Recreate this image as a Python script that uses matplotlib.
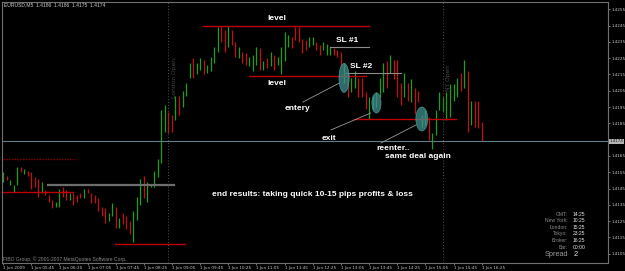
import numpy as np
import matplotlib
matplotlib.use("Agg")
import matplotlib.pyplot as plt
from matplotlib.patches import Ellipse

# EURUSD M5, 1 Jun 2009 05:05 .. 16:25 (high / low per bar, G = up, R = down)
high = [1.4155,1.4153,1.4150,1.4147,1.4158,1.4158,1.4157,1.4156,1.4155,1.4152,
        1.4151,1.4149,1.4144,1.4141,1.4138,1.4137,1.4145,1.4146,1.4144,1.4142,
        1.4142,1.4141,1.4142,1.4145,1.4145,1.4142,1.4141,1.4139,1.4134,1.4133,
        1.4130,1.4136,1.4134,1.4127,1.4130,1.4128,1.4125,1.4131,1.4140,1.4151,
        1.4153,1.4149,1.4148,1.4156,1.4163,1.4193,1.4196,1.4192,1.4190,1.4202,
        1.4202,1.4205,1.4210,1.4222,1.4225,1.4222,1.4225,1.4224,1.4221,1.4226,
        1.4232,1.4244,1.4245,1.4242,1.4245,1.4242,1.4235,1.4232,1.4229,1.4228,
        1.4226,1.4227,1.4232,1.4231,1.4223,1.4225,1.4229,1.4227,1.4226,1.4232,
        1.4241,1.4239,1.4238,1.4244,1.4244,1.4237,1.4236,1.4238,1.4238,1.4235,
        1.4233,1.4235,1.4234,1.4232,1.4231,1.4230,1.4229,1.4222,1.4216,1.4213,
        1.4217,1.4213,1.4213,1.4204,1.4201,1.4202,1.4204,1.4213,1.4222,1.4223,
        1.4227,1.4224,1.4224,1.4210,1.4216,1.4210,1.4212,1.4207,1.4205,1.4190,
        1.4193,1.4189,1.4179,1.4193,1.4204,1.4201,1.4204,1.4209,1.4209,1.4213,
        1.4216,1.4224,1.4217,1.4199,1.4199,1.4199,1.4186]
low = [1.4149,1.4150,1.4147,1.4143,1.4147,1.4155,1.4154,1.4153,1.4145,1.4146,
       1.4140,1.4142,1.4141,1.4137,1.4133,1.4134,1.4134,1.4140,1.4138,1.4138,
       1.4135,1.4137,1.4139,1.4139,1.4142,1.4136,1.4136,1.4131,1.4128,1.4124,
       1.4125,1.4128,1.4121,1.4121,1.4123,1.4120,1.4117,1.4112,1.4126,1.4135,
       1.4139,1.4137,1.4146,1.4146,1.4152,1.4161,1.4180,1.4179,1.4180,1.4187,
       1.4190,1.4195,1.4202,1.4213,1.4213,1.4215,1.4218,1.4215,1.4216,1.4217,
       1.4222,1.4229,1.4235,1.4229,1.4232,1.4233,1.4226,1.4225,1.4222,1.4221,
       1.4220,1.4217,1.4221,1.4218,1.4218,1.4219,1.4220,1.4218,1.4221,1.4215,
       1.4223,1.4232,1.4231,1.4236,1.4235,1.4228,1.4230,1.4232,1.4233,1.4230,
       1.4227,1.4230,1.4227,1.4227,1.4227,1.4226,1.4220,1.4210,1.4201,1.4204,
       1.4207,1.4201,1.4201,1.4194,1.4188,1.4193,1.4195,1.4201,1.4204,1.4207,
       1.4216,1.4212,1.4201,1.4196,1.4201,1.4199,1.4198,1.4191,1.4198,1.4183,
       1.4184,1.4175,1.4169,1.4178,1.4193,1.4192,1.4187,1.4189,1.4199,1.4201,
       1.4205,1.4207,1.4180,1.4184,1.4183,1.4182,1.4174]
direction = ("GRGGGRGRRR" "RGRRRGGRRG" "RRRGRRRRRR" "GGRGRRRGGG" "RGGGGGGRRG"
             "RGGGRGGRGG" "GGRRGRRGRR" "GGGRGRGRGG" "GGRRRRRGGR" "RGGGRRRGRG"
             "GRRRGGGGGR" "GRRRGRGRRG" "GRGGGGGGGG" "RGRGRRR")

time_labels = ["1 Jun 2009", "1 Jun 05:45", "1 Jun 06:25", "1 Jun 07:05", "1 Jun 07:45",
               "1 Jun 08:25", "1 Jun 09:05", "1 Jun 09:45", "1 Jun 10:25", "1 Jun 11:05",
               "1 Jun 11:45", "1 Jun 12:25", "1 Jun 13:05", "1 Jun 13:45", "1 Jun 14:25",
               "1 Jun 15:05", "1 Jun 15:45", "1 Jun 16:25"]
price_ticks = [1.4255, 1.4245, 1.4235, 1.4225, 1.4215, 1.4205, 1.4195, 1.4185,
               1.4165, 1.4155, 1.4145, 1.4135, 1.4125, 1.4115, 1.4105]
last_price = 1.4174

# drawn objects: (price, first bar, last bar)
red_levels = [(1.4245, 56.8, 104.0), (1.4214, 69.9, 103.1), (1.4188, 99.7, 128.7),
              (1.4143, 0.0, 19.9), (1.4111, 31.8, 51.7)]
grey_levels = [(1.4232, 92.9, 104.0), (1.4216, 97.4, 113.1)]

info_names = ["GMT:", "New York:", "London:", "Tokyo:", "Broker:", "Bar:"]
info_times = ["14:25", "10:25", "15:25", "23:25", "16:25", "00:00"]

W, H = 625, 271
fig = plt.figure(figsize=(W / 100, H / 100), dpi=100, facecolor="black")
ax = fig.add_axes([2 / W, 8 / H, 606 / W, 261 / H], facecolor="black")

x = np.arange(len(high))
cols = ["#1aa01a" if d == "G" else "#c41010" for d in direction]
ax.vlines(x, low, high, colors=cols, lw=0.9)

for p, a, b in red_levels:
    ax.plot([a, b], [p, p], color="#c00000", lw=1.0)
ax.plot([0, 20.7], [1.4163, 1.4163], color="#8a0000", lw=1.0, ls=(0, (1, 1)))
for p, a, b in grey_levels:
    ax.plot([a, b], [p, p], color="#8c8c8c", lw=0.8)
ax.plot([12.8, 48.6], [1.4147, 1.4147], color="#6e6e6e", lw=1.6)
ax.axhline(last_price, color="#5f7f86", lw=0.8)

# session open lines
for bx, name in [(47, "London Open"), (125, "NY Open")]:
    ax.axvline(bx, color="#505050", lw=0.7, ls=(0, (1, 2)))
    ax.text(bx + 0.9, 1.4213, name, rotation=90, color="#4a4a4a", fontsize=4.3,
            ha="left", va="center")

# ellipses
for cx, cy, w, h in [(96.9, 1.42129, 2.9, 0.00178), (106.1, 1.41975, 2.6, 0.00123),
                     (119.0, 1.41877, 3.4, 0.00147)]:
    ax.add_patch(Ellipse((cx, cy), w, h, facecolor="#3f8f8f", edgecolor="#5aa8a8",
                         alpha=0.75, lw=0.5, zorder=3))

# pointer lines
for (x0, y0), (x1, y1) in [((85.2, 1.41981), (95.5, 1.42097)),
                           ((93.2, 1.41810), (104.5, 1.41914)),
                           ((107.4, 1.41730), (117.3, 1.41840))]:
    ax.plot([x0, x1], [y0, y1], color="#9a9a9a", lw=0.6, zorder=4)

ax.set_xlim(-0.3, 171.9)
ax.set_ylim(1.4255 - 253.7 / 16300, 1.4255 + 7.3 / 16300)

ax.set_xticks(np.arange(0, len(high), 8))
ax.set_xticklabels(time_labels, ha="left")
ax.yaxis.tick_right()
ax.set_yticks(price_ticks)
ax.set_yticklabels([f"{v:.4f}" for v in price_ticks])
ax.tick_params(colors="#8a8a8a", labelcolor="#c8c8c8", labelsize=3.0, length=1.5,
               width=0.6, pad=0.8)
for s in ax.spines.values():
    s.set_color("#707070")
    s.set_linewidth(0.8)
ax.text(1.002, last_price, "1.4174", transform=ax.get_yaxis_transform(),
        fontsize=3.0, color="#202020", va="center", ha="left",
        bbox=dict(boxstyle="square,pad=0.15", fc="#b4b4b4", ec="none"))


def px(xp, yp):
    return xp / W, 1 - yp / H


bold = dict(color="white", fontsize=6.0, fontweight="bold", family="Liberation Sans")
fig.text(*px(277, 19), "level", ha="center", va="center", **bold)
fig.text(*px(277, 83), "level", ha="center", va="center", **bold)
fig.text(*px(347, 41), "SL #1", ha="center", va="center", **bold)
fig.text(*px(361, 67), "SL #2", ha="center", va="center", **bold)
fig.text(*px(297, 109), "entery", ha="center", va="center", **bold)
fig.text(*px(329, 139), "exit", ha="center", va="center", **bold)
fig.text(*px(376, 148), "reenter..", ha="left", va="center", **bold)
fig.text(*px(385, 157), "same deal again", ha="left", va="center", **bold)
fig.text(*px(212, 194), "end results: taking quick 10-15 pips profits & loss",
         ha="left", va="center", **bold)

small = dict(fontsize=3.6, family="Liberation Sans")
fig.text(*px(4, 5), "EURUSD,M5  1.4186  1.4186  1.4175  1.4174", color="#c8c8c8",
         ha="left", va="center", **small)
fig.text(*px(3, 259), "FIBO Group, \u00a9 2001-2007 MetaQuotes Software Corp.",
         color="#8c8c8c", ha="left", va="center", **small)

for k, (n, t) in enumerate(zip(info_names, info_times)):
    yy = 214 + k * 6.65
    fig.text(*px(568, yy), n, color="#8c8c8c", ha="right", va="center", **small)
    fig.text(*px(573, yy), t, color="#e6e6e6", ha="left", va="center", **small)
fig.text(*px(568, 254), "Spread", color="#9a9a9a", ha="right", va="center",
         fontsize=5.3, family="Liberation Sans")
fig.text(*px(574, 254), "2", color="#e6e6e6", ha="left", va="center",
         fontsize=5.3, family="Liberation Sans")

fig.savefig("out.png", dpi=100, facecolor="black")
